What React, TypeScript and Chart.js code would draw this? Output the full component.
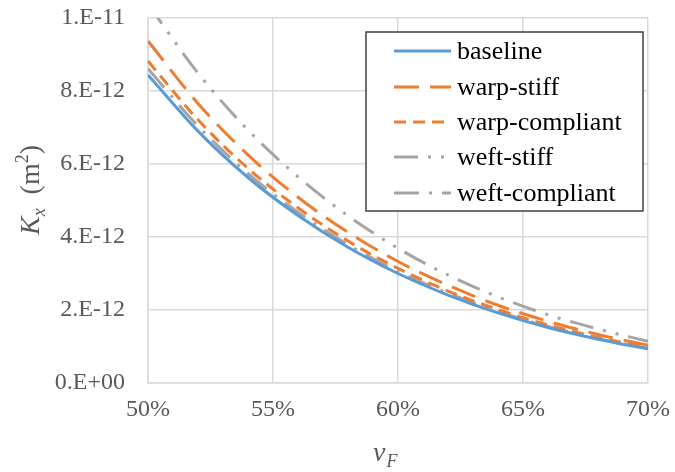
import React, { useEffect, useRef } from "react";
import { Chart, registerables } from "chart.js";

Chart.register(...registerables);

const vF = [0.5, 0.52, 0.54, 0.56, 0.58, 0.6, 0.62, 0.64, 0.66, 0.68, 0.7];
const baseline = [8.44e-12, 6.9e-12, 5.63e-12, 4.59e-12, 3.72e-12, 3.0e-12, 2.41e-12, 1.92e-12, 1.52e-12, 1.2e-12, 0.93e-12];
const warpStiff = [9.37e-12, 7.66e-12, 6.25e-12, 5.09e-12, 4.13e-12, 3.33e-12, 2.68e-12, 2.13e-12, 1.69e-12, 1.33e-12, 1.03e-12];
const warpCompliant = [8.82e-12, 7.21e-12, 5.88e-12, 4.8e-12, 3.89e-12, 3.14e-12, 2.52e-12, 2.01e-12, 1.59e-12, 1.25e-12, 0.97e-12];
const weftStiff = [10.38e-12, 8.49e-12, 6.93e-12, 5.65e-12, 4.58e-12, 3.69e-12, 2.96e-12, 2.36e-12, 1.87e-12, 1.48e-12, 1.14e-12];
const weftCompliant = [8.61e-12, 7.04e-12, 5.74e-12, 4.68e-12, 3.79e-12, 3.06e-12, 2.46e-12, 1.96e-12, 1.55e-12, 1.22e-12, 0.95e-12];

const seriesLabels = ["baseline", "warp-stiff", "warp-compliant", "weft-stiff", "weft-compliant"];
const seriesData = [baseline, warpStiff, warpCompliant, weftStiff, weftCompliant];
const seriesColors = ["#5b9bd5", "#ed7d31", "#ed7d31", "#a5a5a5", "#a5a5a5"];
const seriesDash = [[], [25, 11], [12, 7], [24, 10, 3, 10, 3, 10], [25, 10, 3, 10]];

const SERIF = '"Liberation Serif", "Times New Roman", serif';
const TEXT = "#595959";

function fmtExp(v: number): string {
  if (Math.abs(v) < 1e-20) return "0.E+00";
  const s = v.toExponential(0);
  const [m, e] = s.split("e");
  const sign = e[0] === "-" ? "-" : "+";
  let digits = e.replace(/^[+-]/, "");
  if (digits.length < 2) digits = "0" + digits;
  return `${m}.E${sign}${digits}`;
}

const overlayPlugin = {
  id: "overlay",
  afterDraw(chart: any) {
    const ctx: CanvasRenderingContext2D = chart.ctx;
    const bx = 366, by = 32, bw = 277, bh = 179;
    ctx.save();
    ctx.fillStyle = "#ffffff";
    ctx.fillRect(bx, by, bw, bh);
    ctx.strokeStyle = "#404040";
    ctx.lineWidth = 1.5;
    ctx.strokeRect(bx, by, bw, bh);
    const rowY = [51, 87, 122, 157, 193];
    ctx.font = `26px ${SERIF}`;
    ctx.textBaseline = "middle";
    ctx.textAlign = "left";
    chart.data.datasets.forEach((ds: any, i: number) => {
      const y = rowY[i];
      ctx.beginPath();
      ctx.setLineDash(ds.borderDash || []);
      ctx.strokeStyle = ds.borderColor;
      ctx.lineWidth = 3;
      ctx.moveTo(394, y);
      ctx.lineTo(451, y);
      ctx.stroke();
      ctx.setLineDash([]);
      ctx.fillStyle = "#000000";
      ctx.fillText(ds.label, 457, y + 1);
    });
    ctx.restore();

    ctx.save();
    ctx.fillStyle = TEXT;
    ctx.textBaseline = "alphabetic";
    ctx.textAlign = "left";
    ctx.font = `italic 28px ${SERIF}`;
    const vx = 373, vy = 461;
    ctx.fillText("v", vx, vy);
    const vw = ctx.measureText("v").width;
    ctx.font = `italic 18px ${SERIF}`;
    ctx.fillText("F", vx + vw + 1, vy + 6);
    ctx.restore();

    ctx.save();
    ctx.translate(39, 190);
    ctx.rotate(-Math.PI / 2);
    ctx.fillStyle = TEXT;
    ctx.textBaseline = "alphabetic";
    const parts: [string, string, number][] = [
      ["K", `italic 28px ${SERIF}`, 0],
      ["x", `italic 18px ${SERIF}`, 6],
      ["  (m", `28px ${SERIF}`, 0],
      ["2", `18px ${SERIF}`, -11],
      [")", `28px ${SERIF}`, 0],
    ];
    let total = 0;
    parts.forEach(([t, f]) => {
      ctx.font = f;
      total += ctx.measureText(t).width;
    });
    let x = -total / 2;
    parts.forEach(([t, f, dy]) => {
      ctx.font = f;
      ctx.fillText(t, x, dy);
      x += ctx.measureText(t).width;
    });
    ctx.restore();
  },
};

export default function App() {
  const ref = useRef<HTMLCanvasElement>(null);
  useEffect(() => {
    if (!ref.current) return;
    const chart = new Chart(ref.current, {
      type: "line",
      data: {
        datasets: seriesLabels.map((label, i) => ({
          label,
          data: vF.map((x, j) => ({ x, y: seriesData[i][j] })),
          borderColor: seriesColors[i],
          backgroundColor: seriesColors[i],
          borderDash: seriesDash[i],
          borderWidth: 3,
          pointRadius: 0,
          cubicInterpolationMode: "monotone" as const,
          fill: false,
        })),
      },
      options: {
        animation: false,
        responsive: true,
        maintainAspectRatio: false,
        layout: { padding: { top: 18, right: 27, left: 0, bottom: 0 } },
        plugins: { legend: { display: false }, tooltip: { enabled: false } },
        scales: {
          x: {
            type: "linear",
            min: 0.5,
            max: 0.7,
            ticks: {
              stepSize: 0.05,
              padding: 12,
              color: TEXT,
              font: { family: SERIF, size: 24 },
              maxRotation: 0,
              callback: (v: any) => `${Math.round(Number(v) * 100)}%`,
            },
            grid: { color: "#d9d9d9", lineWidth: 1.5, drawTicks: false },
            border: { color: "#d9d9d9", width: 1.5 },
            afterFit: (s: any) => {
              s.height = 89;
              s.paddingLeft = 0;
              s.paddingRight = 0;
              s.paddingTop = 0;
              s.paddingBottom = 0;
            },
          },
          y: {
            type: "linear",
            min: 0,
            max: 1e-11,
            ticks: {
              stepSize: 2e-12,
              padding: 23,
              color: TEXT,
              font: { family: SERIF, size: 24 },
              callback: (v: any) => fmtExp(Number(v)),
            },
            grid: { color: "#d9d9d9", lineWidth: 1.5, drawTicks: false },
            border: { color: "#d9d9d9", width: 1.5 },
            afterFit: (s: any) => {
              s.width = 148;
              s.paddingLeft = 0;
              s.paddingRight = 0;
              s.paddingTop = 0;
              s.paddingBottom = 0;
            },
          },
        },
      },
      plugins: [overlayPlugin],
    });
    return () => chart.destroy();
  }, []);
  return (
    <div style={{ position: "absolute", left: 0, top: 0, width: 675, height: 472, background: "#fff" }}>
      <canvas ref={ref} />
    </div>
  );
}
